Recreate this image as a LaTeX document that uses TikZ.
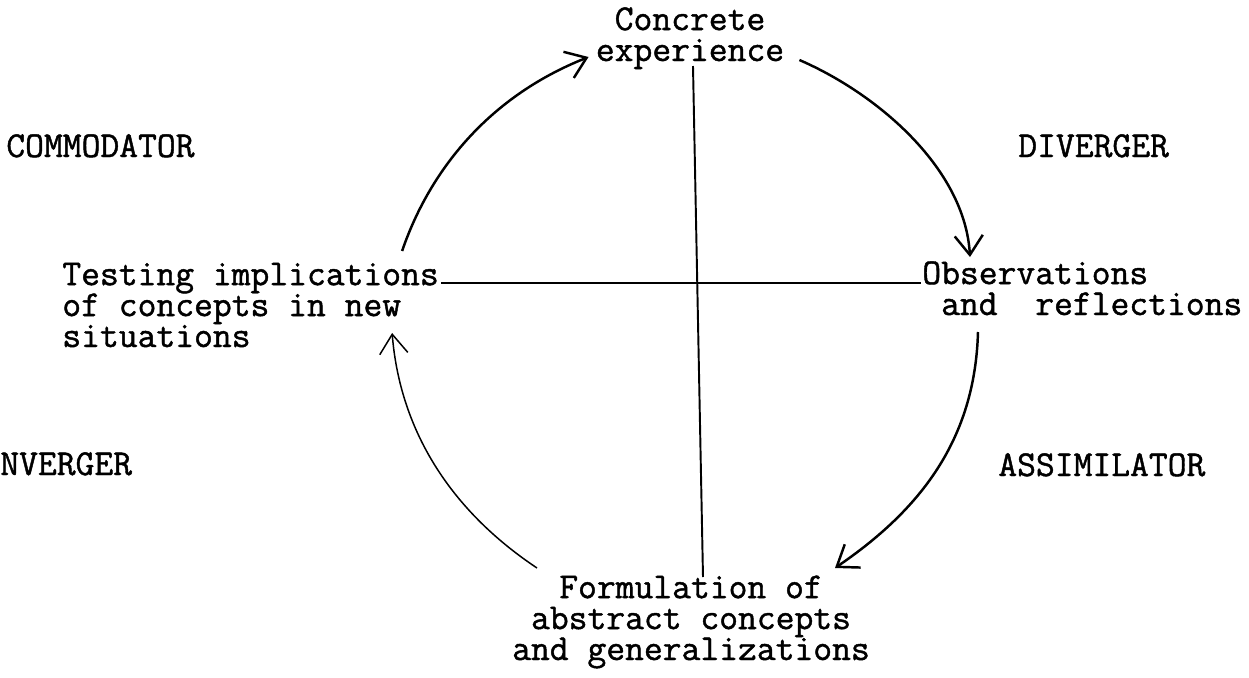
\documentclass[tikz,border=0pt]{standalone}
\usepackage{fontspec}
\setmonofont{Latin Modern Mono}[FakeBold=1.2]
\usetikzlibrary{arrows.meta,calc}
\begin{document}
\begin{tikzpicture}[x=0.02cm,y=-0.02cm,
    txt/.style={inner sep=0pt,font=\ttfamily\fontsize{20.8}{17.6}\selectfont},
    axis/.style={line width=1.1pt},
    cyc/.style={line width=1.4pt,-{Straight Barb[length=11pt,width=16pt]}},
    cycthin/.style={cyc,line width=0.85pt}]
  \useasboundingbox (0,0) rectangle (1249,677);

  % Vier Stationen des Zyklus (base = letzte Zeile).
  \node[txt,align=center,anchor=base] (conc) at (690,61) {Concrete\\experience};
  \node[txt,align=left,anchor=base west] (obs) at (922,315)
    {Observations\\\phantom{a}and~~reflections};
  \node[txt,align=center,anchor=base] (form) at (691,660)
    {Formulation of\\abstract concepts\\and generalizations};
  \node[txt,align=left,anchor=base west] (test) at (62,347)
    {Testing implications\\of concepts in new\\situations};

  % Lernstile in den Quadranten.
  \node[txt,anchor=base west] (acc) at (6,157) {COMMODATOR};
  \node[txt,anchor=base west] (div) at (1018,157) {DIVERGER};
  \node[txt,anchor=base west] (conv) at (0,475) {NVERGER};
  \node[txt,anchor=base west] (assim) at (998,476) {ASSIMILATOR};

  % Achsenkreuz.
  \draw[axis] ($(conc.base)+(3,5)$) -- ($(form.base)+(12,-83)$);
  \draw[axis] ($(test.base east)+(2,-64)$) -- ($(obs.base west)+(-1,-32)$);

  % Pfeile im Uhrzeigersinn.
  \draw[cyc] ($(conc.base east)+(15,-1)$) .. controls (880,95) and (965,170)
    .. ($(obs.base west)+(48,-58)$);
  \draw[cyc] ($(obs.base west)+(56,17)$) .. controls (975,440) and (920,510)
    .. ($(form.base)+(144,-92)$);
  \draw[cycthin] ($(form.base)+(-154,-92)$) .. controls (450,510) and (400,430)
    .. ($(test.base east)+(-47,-14)$);
  \draw[cyc] ($(test.base east)+(-37,-96)$) .. controls (428,175) and (485,98)
    .. ($(conc.base west)+(-7,-4)$);
\end{tikzpicture}
\end{document}
